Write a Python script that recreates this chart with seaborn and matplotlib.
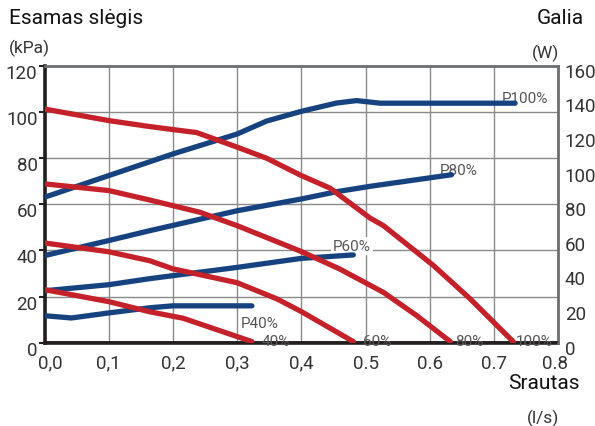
import matplotlib
matplotlib.use('Agg')
import matplotlib.pyplot as plt
import matplotlib.transforms as mtransforms
import seaborn as sns
import pandas as pd

# Pressure curves (kPa, left axis)
flow_p100 = [0.0, 0.1, 0.164, 0.237, 0.3, 0.346, 0.4, 0.445, 0.507, 0.528, 0.606, 0.663, 0.73]
kpa_p100 = [101.2, 96.2, 93.6, 91.0, 84.7, 79.9, 72.4, 66.9, 54.0, 50.7, 33.4, 19.0, 0.5]
flow_p80 = [0.0, 0.1, 0.164, 0.242, 0.3, 0.4, 0.46, 0.528, 0.58, 0.632]
kpa_p80 = [68.8, 65.9, 61.8, 56.5, 50.7, 39.5, 31.9, 21.8, 11.7, 0.5]
flow_p60 = [0.0, 0.1, 0.164, 0.2, 0.3, 0.362, 0.4, 0.481]
kpa_p60 = [43.2, 39.4, 35.5, 32.0, 26.0, 19.0, 13.5, 0.5]
flow_p40 = [0.0, 0.1, 0.164, 0.216, 0.323]
kpa_p40 = [23.0, 17.8, 13.4, 10.6, 0.5]

# Power curves (W, right axis)
flow_w100 = [0.0, 0.1, 0.2, 0.3, 0.346, 0.4, 0.455, 0.486, 0.523, 0.733]
watt_w100 = [84.0, 96.5, 109.0, 120.5, 128.0, 133.6, 138.4, 139.8, 138.3, 138.3]
flow_w80 = [0.0, 0.1, 0.164, 0.3, 0.4, 0.455, 0.507, 0.634]
watt_w80 = [50.3, 59.0, 64.7, 76.2, 83.0, 87.2, 90.3, 97.0]
flow_w60 = [0.0, 0.1, 0.164, 0.3, 0.4, 0.481]
watt_w60 = [30.0, 33.5, 37.0, 43.5, 48.7, 50.7]
flow_w40 = [0.0, 0.042, 0.1, 0.164, 0.2, 0.323]
watt_w40 = [15.6, 14.3, 17.2, 20.2, 21.3, 21.3]

x_ticks = [0.0, 0.1, 0.2, 0.3, 0.4, 0.5, 0.6, 0.7, 0.8]
x_labels = ['0,0', '0,1', '0,2', '0,3', '0,4', '0.5', '0.6', '0.7', '0.8']
kpa_ticks = [0, 20, 40, 60, 80, 100, 120]
watt_ticks = [0, 20, 40, 60, 80, 100, 120, 140, 160]

pressure = [
    (flow_p100, kpa_p100, '100%', (0.734, 0.8)),
    (flow_p80, kpa_p80, '80%', (0.64, 0.8)),
    (flow_p60, kpa_p60, '60%', (0.496, 0.8)),
    (flow_p40, kpa_p40, '40%', (0.338, 0.8)),
]
power = [
    (flow_w100, watt_w100, 'P100%', (0.712, 141.5)),
    (flow_w80, watt_w80, 'P80%', (0.615, 99.5)),
    (flow_w60, watt_w60, 'P60%', (0.449, 55.8)),
    (flow_w40, watt_w40, 'P40%', (0.306, 11.5)),
]

RED = '#c5212b'
BLUE = '#16437f'

sns.set_style('white')
plt.rcParams['font.family'] = ['Roboto', 'DejaVu Sans']

fig = plt.figure(figsize=(5.95, 4.27), dpi=100)
ax = fig.add_axes([0.0748, 0.195, 0.8632, 0.649])
ax_w = ax.twinx()   # power (right axis)
ax_k = ax.twinx()   # pressure curves drawn on top

# grid + left axis
ax.set_xlim(0, 0.8)
ax.set_ylim(0, 120)
ax.set_xticks(x_ticks)
ax.set_xticklabels(x_labels)
ax.set_yticks(kpa_ticks)
ax.grid(True, color='#8a8a8a', lw=1.0)
ax.tick_params(axis='x', length=0, pad=8, labelsize=13.5, labelcolor='#333333')
ax.tick_params(axis='y', length=4, width=1.5, color='#231f20', pad=1,
               labelsize=13.5, labelcolor='#333333')
for s in ['left', 'bottom']:
    ax.spines[s].set_color('#231f20')
    ax.spines[s].set_linewidth(2.6)
ax.spines['top'].set_color('#6d6e71')
ax.spines['top'].set_linewidth(2)
ax.spines['right'].set_visible(False)

# power curves
ax_w.set_ylim(0, 160)
ax_w.set_yticks(watt_ticks)
ax_w.tick_params(axis='y', length=0, pad=4, labelsize=13.5, labelcolor='#333333')
for s in ['left', 'bottom', 'top']:
    ax_w.spines[s].set_visible(False)
ax_w.spines['right'].set_color('#6d6e71')
ax_w.spines['right'].set_linewidth(2)
for fx, fy, name, pos in power:
    df = pd.DataFrame({'flow': fx, 'watt': fy})
    sns.lineplot(data=df, x='flow', y='watt', sort=False, color=BLUE, lw=3.8,
                 solid_capstyle='round', ax=ax_w, zorder=3)
    ax_w.text(pos[0], pos[1], name, ha='left', va='center', fontsize=11,
              color='#555555', zorder=2,
              bbox=dict(facecolor='white', edgecolor='none', pad=1.5))
ax_w.set_xlabel('')
ax_w.set_ylabel('')

# pressure curves
ax_k.set_ylim(0, 120)
ax_k.set_yticks([])
for s in ax_k.spines.values():
    s.set_visible(False)
for fx, fy, name, pos in pressure:
    df = pd.DataFrame({'flow': fx, 'kpa': fy})
    sns.lineplot(data=df, x='flow', y='kpa', sort=False, color=RED, lw=3.8,
                 solid_capstyle='round', ax=ax_k, zorder=3)
    ax_k.text(pos[0], pos[1], name, ha='left', va='center', fontsize=11,
              color='#555555', zorder=2)
ax_k.set_xlabel('')
ax_k.set_ylabel('')
ax_k.set_xlim(0, 0.8)

# dark bottom frame drawn over the curve labels, as in the original
ax_k.axhline(0, color='#231f20', lw=2.6, zorder=1)

ax.set_xlabel('')
ax.set_ylabel('')

# small label offsets like in the original
shift = lambda dx, dy: mtransforms.ScaledTranslation(dx / 100, -dy / 100, fig.dpi_scale_trans)
for lab in ax.get_yticklabels():
    lab.set_transform(lab.get_transform() + shift(0, 5))
for lab in ax_w.get_yticklabels():
    lab.set_transform(lab.get_transform() + shift(1, 4))
xlabs = ax.get_xticklabels()
xlabs[0].set_transform(xlabs[0].get_transform() + shift(6, 0))
xlabs[-1].set_transform(xlabs[-1].get_transform() + shift(-3, 0))

# axis titles
fig.text(9 / 595, 1 - 18 / 427, 'Esamas slėgis', fontsize=15, color='#111111', ha='left', va='center')
fig.text(9 / 595, 1 - 48 / 427, '(kPa)', fontsize=12.5, color='#333333', ha='left', va='center')
fig.text(584 / 595, 1 - 18 / 427, 'Galia', fontsize=15, color='#111111', ha='right', va='center')
fig.text(559 / 595, 1 - 53 / 427, '(W)', fontsize=12.5, color='#333333', ha='right', va='center')
fig.text(580 / 595, 1 - 384 / 427, 'Srautas', fontsize=15, color='#111111', ha='right', va='center')
fig.text(559 / 595, 1 - 418 / 427, '(l/s)', fontsize=12.5, color='#333333', ha='right', va='center')

fig.savefig('out.png', dpi=100)
